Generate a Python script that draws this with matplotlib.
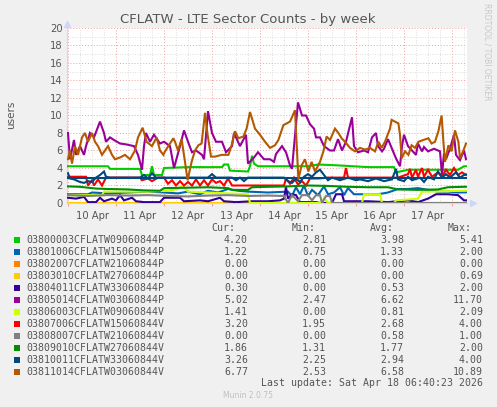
import matplotlib
matplotlib.use("Agg")
import matplotlib.pyplot as plt
from matplotlib.patches import Rectangle

# time axis: hours since 10 Apr 00:00
green = [(0, 4.2), (20, 4.2), (21, 3.9), (36, 3.9), (37, 3.2), (41, 3.2), (42, 4.2), (43, 3.2), (47, 3.2),
         (48, 4.0), (60, 4.1), (77, 4.1), (78, 4.4), (80, 4.4), (81, 3.7), (90, 3.6), (91, 4.2), (92, 5.4),
         (93, 4.5), (95, 4.2), (110, 4.2), (120, 4.2), (125, 4.4), (135, 4.3), (150, 4.1), (163, 4.1),
         (164, 3.5), (170, 3.8), (185, 3.8), (195, 3.8), (198, 4.2), (199, 4.2)]
blue = [(0, 1.0), (10, 1.0), (12, 1.2), (20, 1.1), (30, 1.2), (40, 1.3), (48, 1.2), (55, 1.1), (60, 1.3),
        (66, 1.0), (70, 1.4), (75, 1.2), (80, 1.6), (85, 1.4), (90, 1.3), (100, 1.2), (110, 1.3), (112, 0.8),
        (114, 1.8), (116, 1.0), (118, 2.0), (120, 0.8), (122, 1.5), (125, 0.9), (128, 1.9), (130, 1.0),
        (133, 1.2), (136, 1.8), (138, 0.9), (140, 1.7), (143, 1.0), (150, 1.0), (155, 1.0), (160, 1.2),
        (165, 1.6), (170, 1.6), (175, 1.7), (180, 1.5), (185, 1.3), (190, 1.3), (195, 1.2), (199, 1.22)]
orange = [(0, 0.0), (199, 0.0)]
yellow = [(0, 0.0), (199, 0.0)]
darkpurple = [(0, 0.6), (4, 0.5), (8, 0.7), (10, 0.1), (14, 0.1), (16, 0.6), (18, 0.2), (22, 0.5), (24, 0.3),
              (26, 0.9), (28, 0.3), (32, 0.6), (34, 0.2), (38, 0.1), (46, 0.1), (48, 0.6), (56, 0.6), (58, 0.2),
              (66, 0.3), (70, 0.2), (76, 0.6), (78, 0.2), (84, 0.1), (92, 0.2), (100, 0.2), (106, 0.3),
              (108, 0.5), (109, 1.8), (110, 0.5), (112, 1.0), (114, 0.9), (116, 0.1), (124, 0.1), (126, 0.0),
              (132, 0.0), (134, 1.0), (137, 1.0), (138, 0.2), (150, 0.2), (160, 0.1), (170, 0.3), (175, 0.1),
              (180, 0.5), (184, 1.0), (190, 1.0), (195, 0.9), (198, 0.3), (199, 0.3)]
purple = [(0, 8.0), (1, 5.0), (3, 7.2), (4, 5.5), (6, 6.5), (8, 5.5), (9, 6.5), (11, 8.0), (13, 7.5), (16, 9.3),
          (18, 8.0), (19, 7.0), (21, 7.5), (23, 7.2), (26, 6.8), (29, 6.7), (33, 6.5), (35, 5.5), (37, 3.8),
          (38, 6.5), (39, 8.0), (41, 7.0), (43, 7.8), (46, 6.8), (48, 7.0), (51, 6.5), (53, 4.0), (56, 6.5),
          (58, 8.3), (60, 7.0), (62, 5.8), (64, 6.0), (67, 5.5), (68, 5.0), (70, 10.5), (72, 8.0), (74, 7.0),
          (77, 7.0), (79, 5.8), (82, 6.5), (83, 8.0), (86, 6.5), (89, 7.8), (90, 4.5), (93, 5.2), (95, 5.8),
          (98, 5.0), (101, 5.0), (103, 4.7), (104, 5.6), (107, 6.5), (109, 5.8), (111, 4.3), (112, 3.9),
          (115, 11.5), (117, 10.0), (119, 10.0), (121, 9.0), (123, 8.5), (124, 7.5), (126, 7.5), (128, 6.5),
          (131, 6.0), (133, 6.0), (135, 7.3), (137, 6.0), (139, 7.0), (142, 9.8), (143, 6.5), (145, 5.8),
          (148, 6.0), (150, 5.8), (152, 7.5), (154, 8.0), (155, 6.5), (157, 5.9), (158, 6.2), (160, 7.3),
          (162, 6.2), (164, 5.1), (166, 4.2), (167, 6.5), (168, 7.8), (170, 6.5), (172, 6.0), (174, 5.5),
          (175, 6.8), (177, 5.9), (178, 6.4), (180, 5.9), (183, 6.2), (186, 5.9), (187, 3.2), (188, 5.7),
          (189, 5.0), (191, 6.2), (193, 7.8), (194, 5.5), (196, 4.9), (198, 6.0), (199, 5.0)]
lime = [(0, 0.9), (17, 0.9), (18, 1.3), (40, 1.3), (50, 1.4), (55, 1.6), (57, 2.0), (60, 1.3), (70, 1.2),
        (80, 1.1), (90, 1.0), (91, 0.0), (127, 0.0), (128, 0.6), (130, 0.0), (147, 0.0), (148, 1.0),
        (156, 1.0), (157, 0.0), (163, 0.0), (164, 0.3), (170, 0.4), (175, 0.5), (177, 1.3), (190, 1.35),
        (199, 1.41)]
red = [(0, 3.0), (9, 3.0), (10, 2.0), (12, 2.6), (13, 2.0), (15, 2.7), (17, 2.0), (19, 2.9), (36, 2.9),
       (37, 2.6), (40, 2.8), (42, 2.5), (45, 2.9), (48, 2.9), (50, 2.2), (52, 2.6), (54, 2.0), (56, 2.5),
       (58, 2.0), (60, 2.4), (62, 2.0), (64, 2.7), (66, 2.0), (68, 2.6), (70, 2.0), (72, 2.7), (74, 2.3),
       (76, 2.5), (78, 2.0), (80, 2.8), (82, 2.0), (90, 2.0), (100, 2.0), (108, 2.0), (109, 2.8), (111, 2.2),
       (113, 2.9), (115, 2.1), (117, 2.5), (119, 2.0), (121, 2.8), (125, 2.8), (130, 2.9), (138, 2.9),
       (139, 4.0), (140, 2.9), (160, 2.9), (165, 2.9), (170, 3.3), (171, 3.9), (172, 2.9), (174, 3.8),
       (175, 3.0), (177, 4.0), (178, 3.0), (180, 3.8), (182, 3.0), (185, 3.5), (187, 3.0), (189, 3.8),
       (191, 3.2), (193, 4.0), (195, 3.2), (197, 3.5), (199, 3.2)]
grey = [(0, 0.9), (10, 0.8), (20, 0.9), (30, 0.85), (40, 0.9), (50, 0.8), (60, 0.75), (70, 0.85), (80, 0.9),
        (90, 0.8), (100, 0.85), (108, 0.8), (110, 0.0), (112, 0.9), (115, 0.2), (117, 0.9), (120, 0.9),
        (122, 0.3), (124, 0.9), (126, 0.9), (127, 0.0), (129, 0.8), (131, 0.8), (132, 0.0), (199, 0.0)]
darkgreen = [(0, 1.9), (6, 1.85), (10, 1.75), (14, 1.65), (20, 1.6), (30, 1.55), (37, 1.45), (46, 1.4),
             (48, 1.7), (60, 1.75), (70, 1.8), (80, 1.7), (82, 1.5), (90, 1.5), (92, 1.8), (100, 1.85),
             (110, 1.9), (120, 2.0), (130, 1.95), (140, 1.85), (150, 1.8), (160, 1.8), (165, 1.55),
             (175, 1.5), (185, 1.55), (190, 1.8), (199, 1.86)]
darkblue_flat = [(0, 2.9), (199, 2.9)]
darkblue = [(0, 3.4), (1, 2.8), (3, 2.7), (6, 2.4), (8, 2.3), (10, 2.5), (12, 2.4), (14, 2.9), (16, 3.2),
            (18, 3.6), (19, 3.0), (21, 2.9), (36, 2.9), (38, 3.2), (40, 2.8), (42, 3.4), (44, 2.9), (60, 2.9),
            (70, 2.9), (72, 3.3), (74, 2.9), (82, 2.9), (84, 2.6), (86, 2.9), (88, 2.5), (90, 2.9), (108, 2.9),
            (110, 2.5), (112, 2.3), (114, 2.8), (116, 2.4), (118, 3.0), (120, 3.3), (122, 3.0), (124, 3.5),
            (126, 3.8), (128, 3.2), (130, 2.6), (132, 2.9), (136, 2.6), (140, 2.9), (144, 2.6), (146, 2.7),
            (150, 2.5), (154, 2.8), (158, 2.5), (162, 2.7), (164, 3.9), (165, 2.7), (168, 2.5), (170, 3.0),
            (172, 2.6), (176, 2.9), (178, 2.4), (180, 3.0), (183, 2.7), (185, 3.6), (187, 2.9), (189, 3.3),
            (191, 2.9), (194, 3.5), (196, 2.9), (198, 3.2), (199, 3.26)]
brown = [(0, 5.0), (1, 6.0), (2, 4.5), (3.5, 6.5), (5, 5.5), (7, 7.5), (8.5, 8.0), (10, 7.0), (12, 8.0),
         (13.5, 7.0), (15, 6.5), (17, 5.5), (18.5, 6.0), (20, 6.5), (22, 5.5), (23.5, 5.0), (26, 5.2),
         (28.5, 5.5), (31, 5.0), (33.5, 6.0), (35, 7.5), (37.3, 8.6), (39.3, 7.0), (42, 6.5), (44.3, 7.5),
         (46, 6.0), (47.7, 5.5), (48.5, 5.9), (52.7, 7.4), (53.5, 7.0), (55, 6.0), (56.8, 7.3), (58.5, 4.7),
         (59.8, 2.6), (61.8, 4.7), (63.5, 6.0), (65.2, 6.6), (66.8, 6.8), (68.5, 10.3), (69.8, 7.8),
         (71.5, 5.3), (73.5, 5.3), (76.8, 5.5), (80.2, 5.5), (81.8, 6.6), (83.5, 8.2), (85.2, 7.4),
         (87.7, 7.6), (89.3, 8.5), (91, 10.4), (92.2, 9.5), (93.5, 8.5), (96, 7.8), (98.5, 7.0), (101, 6.3),
         (103.5, 6.6), (105.2, 7.2), (107.7, 8.9), (111, 9.3), (113.5, 10.6), (115.2, 2.7), (116.8, 4.3),
         (118.5, 5.0), (120.2, 3.6), (121.8, 4.7), (123.5, 3.6), (126, 4.7), (127.7, 5.9), (129.3, 7.6),
         (131, 7.2), (133.5, 8.5), (135.2, 8.0), (136.8, 7.4), (138.5, 7.0), (141, 6.3), (143.5, 5.9),
         (146, 6.3), (148.5, 6.1), (151, 6.3), (153.5, 5.9), (155.2, 7.0), (156.8, 6.3), (158.5, 7.0),
         (161, 8.5), (161.8, 9.5), (163.5, 9.3), (165.2, 9.1), (166, 7.8), (166.8, 5.1), (168.5, 5.9),
         (170.2, 5.5), (171.8, 6.6), (173.5, 6.3), (175.2, 7.0), (177.7, 7.2), (180.2, 7.4), (181.8, 6.8),
         (183.5, 7.0), (185.2, 8.2), (186.8, 10.0), (187.7, 7.0), (188.5, 4.7), (190.2, 6.6), (191.8, 5.9),
         (193.5, 8.3), (195.2, 7.0), (196, 5.1), (197.7, 6.0), (199, 6.8)]

names = ["03800003CFLATW09060844P", "03801006CFLATW15060844P", "03802007CFLATW21060844P",
         "03803010CFLATW27060844P", "03804011CFLATW33060844P", "03805014CFLATW03060844P",
         "03806003CFLATW09060844V", "03807006CFLATW15060844V", "03808007CFLATW21060844V",
         "03809010CFLATW27060844V", "03810011CFLATW33060844V", "03811014CFLATW03060844V"]
colors = ["#00CC00", "#0066B3", "#FF8000", "#FFCC00", "#330099", "#990099",
          "#CCFF00", "#FF0000", "#808080", "#008F00", "#00487D", "#B35A00"]
cur = ["4.20", "1.22", "0.00", "0.00", "0.30", "5.02", "1.41", "3.20", "0.00", "1.86", "3.26", "6.77"]
mins = ["2.81", "0.75", "0.00", "0.00", "0.00", "2.47", "0.00", "1.95", "0.00", "1.31", "2.25", "2.53"]
avgs = ["3.98", "1.33", "0.00", "0.00", "0.53", "6.62", "0.81", "2.68", "0.58", "1.77", "2.94", "6.58"]
maxs = ["5.41", "2.00", "0.00", "0.69", "2.00", "11.70", "2.09", "4.00", "1.00", "2.00", "4.00", "10.89"]
series = [green, blue, orange, yellow, darkpurple, purple, lime, red, grey, darkgreen, darkblue, brown]

day_labels = ["10 Apr", "11 Apr", "12 Apr", "13 Apr", "14 Apr", "15 Apr", "16 Apr", "17 Apr"]

W, H = 497, 407
txt = "#555555"
fig = plt.figure(figsize=(W / 100, H / 100), dpi=100, facecolor="#f0f0f0")
ax = fig.add_axes([67 / W, (H - 203) / H, 400 / W, 175 / H])
ax.set_facecolor("white")

for i, s in enumerate(series):
    xs = [p[0] for p in s]
    ys = [p[1] for p in s]
    if i == 10:
        ax.plot([p[0] for p in darkblue_flat], [p[1] for p in darkblue_flat], color=colors[i], lw=1.5, zorder=3)
    ax.plot(xs, ys, color=colors[i], lw=1.5, zorder=3, solid_joinstyle="miter")

ax.set_xlim(-0.5, 199.5)
ax.set_ylim(0, 20)
ax.set_xticks(range(0, 200, 24))
ax.set_xticks(range(0, 200, 6), minor=True)
ax.set_yticks(range(0, 21, 2))
ax.set_yticks(range(0, 21, 1), minor=True)
ax.set_xticklabels([])
ax.grid(which="minor", color="#d4d4d4", ls=(0, (1, 2)), lw=0.6, zorder=1)
ax.grid(which="major", color="#f2a0a0", ls=(0, (1, 2)), lw=0.7, zorder=2)
ax.tick_params(which="both", length=0, labelsize=7.2, labelcolor=txt, pad=3)
ax.tick_params(axis="x", which="major", length=2, color="#f2a0a0", direction="out")
for k, lab in enumerate(day_labels):
    ax.text(12 + 24 * k, -0.045, lab, transform=ax.get_xaxis_transform(),
            ha="center", va="top", fontsize=7.2, color=txt)
for sp in ["top", "right"]:
    ax.spines[sp].set_visible(False)
for sp in ["left", "bottom"]:
    ax.spines[sp].set_color("#cfd6f8")
    ax.spines[sp].set_linewidth(0.8)
ax.plot([0], [1.025], marker="^", ms=4, color="#cfd6f8", transform=ax.transAxes, clip_on=False)
ax.plot([1.015], [0], marker=">", ms=4, color="#cfd6f8", transform=ax.transAxes, clip_on=False)

fig.text(248 / W, 1 - 19 / H, "CFLATW - LTE Sector Counts - by week", ha="center", va="center",
         fontsize=9.5, color=txt)
fig.text(11 / W, 1 - 115 / H, "users", rotation=90, ha="center", va="center", fontsize=7.5, color=txt)
fig.text(487 / W, 1 - 52 / H, "RRDTOOL / TOBI OETIKER", rotation=270, ha="center", va="center",
         fontsize=5.5, color="#c8c8c8")

mono = dict(family="DejaVu Sans Mono", fontsize=7.1, color=txt, va="center")
for hx, lab in [(235, "Cur:"), (316, "Min:"), (394, "Avg:"), (472, "Max:")]:
    fig.text(hx / W, 1 - 228 / H, lab, ha="right", **mono)
for i, name in enumerate(names):
    y = 240 + 12 * i
    fig.patches.append(Rectangle((14 / W, 1 - (y + 3) / H), 6 / W, 6 / H, transform=fig.transFigure,
                                 facecolor=colors[i], edgecolor="none"))
    fig.text(26 / W, 1 - y / H, name, ha="left", **mono)
    for cx, val in [(248, cur[i]), (326, mins[i]), (404, avgs[i]), (483, maxs[i])]:
        fig.text(cx / W, 1 - y / H, val, ha="right", **mono)
fig.text(483 / W, 1 - 383 / H, "Last update: Sat Apr 18 06:40:23 2026", ha="right", **mono)
fig.text(248 / W, 1 - 396 / H, "Munin 2.0.75", ha="center", va="center", fontsize=5.5, color="#c0c0c0")

fig.savefig("out.png", dpi=100, facecolor=fig.get_facecolor())
